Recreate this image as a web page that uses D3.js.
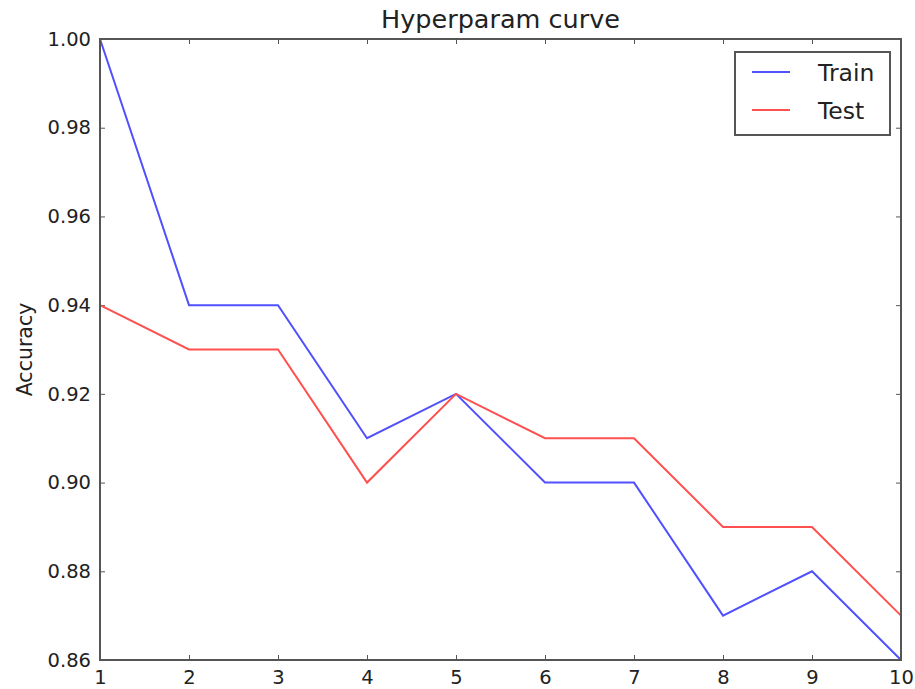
<!DOCTYPE html>
<html>
<head>
<meta charset="utf-8">
<script src="https://cdn.jsdelivr.net/npm/d3@7"></script>
<style>
  body { margin: 0; background: #fff; }
  svg text { font-family: "DejaVu Sans", sans-serif; fill: #222; }
</style>
</head>
<body>
<svg id="chart" width="915" height="689"></svg>
<script>
const steps = [1, 2, 3, 4, 5, 6, 7, 8, 9, 10]
const trainAcc = [1.00, 0.94, 0.94, 0.91, 0.92, 0.90, 0.90, 0.87, 0.88, 0.86]
const testAcc = [0.94, 0.93, 0.93, 0.90, 0.92, 0.91, 0.91, 0.89, 0.89, 0.87]
const yTicks = [0.86, 0.88, 0.90, 0.92, 0.94, 0.96, 0.98, 1.00]
const seriesNames = ["Train", "Test"]
const seriesColors = ["#5050ff", "#ff5050"]

const plotL = 100, plotT = 39, plotR = 901, plotB = 660
const svg = d3.select("#chart")

const x = d3.scaleLinear().domain([1, 10]).range([plotL, plotR])
const y = d3.scaleLinear().domain([0.86, 1.00]).range([plotB, plotT])

// inward ticks on all four sides, matplotlib classic style
svg.append("g")
   .attr("transform", "translate(0," + plotB + ")")
   .call(d3.axisBottom(x).tickValues(steps).tickFormat(d3.format("d")).tickSizeInner(-5).tickSizeOuter(0).tickPadding(10))
svg.append("g")
   .attr("transform", "translate(0," + plotT + ")")
   .call(d3.axisTop(x).tickValues(steps).tickFormat("").tickSizeInner(-5).tickSizeOuter(0))
svg.append("g")
   .attr("transform", "translate(" + plotL + ",0)")
   .call(d3.axisLeft(y).tickValues(yTicks).tickFormat(d3.format(".2f")).tickSizeInner(-5).tickSizeOuter(0).tickPadding(9))
svg.append("g")
   .attr("transform", "translate(" + plotR + ",0)")
   .call(d3.axisRight(y).tickValues(yTicks).tickFormat("").tickSizeInner(-5).tickSizeOuter(0))

svg.selectAll(".domain").remove()
svg.selectAll(".tick line").attr("stroke", "#555").attr("stroke-width", 1)
svg.selectAll(".tick text").style("font-size", "19.5px").attr("fill", "#222")

const series = [trainAcc, testAcc]
const line = d3.line()
   .x(function(d, i) { return x(steps[i]); })
   .y(function(d) { return y(d); })

series.forEach(function(vals, k) {
   svg.append("path")
      .datum(vals)
      .attr("fill", "none")
      .attr("stroke", seriesColors[k])
      .attr("stroke-width", 2)
      .attr("d", line)
})

// frame
svg.append("rect")
   .attr("x", plotL).attr("y", plotT)
   .attr("width", plotR - plotL).attr("height", plotB - plotT)
   .attr("fill", "none").attr("stroke", "#555").attr("stroke-width", 2)

svg.append("text")
   .attr("x", (plotL + plotR) / 2).attr("y", 28)
   .attr("text-anchor", "middle")
   .style("font-size", "25.5px")
   .text("Hyperparam curve")

svg.append("text")
   .attr("transform", "translate(32," + ((plotT + plotB) / 2) + ") rotate(-90)")
   .attr("text-anchor", "middle")
   .style("font-size", "20.5px")
   .text("Accuracy")

// legend
const lg = svg.append("g")
lg.append("rect")
   .attr("x", 735).attr("y", 52).attr("width", 155).attr("height", 83)
   .attr("fill", "#fff").attr("stroke", "#555").attr("stroke-width", 2)
seriesNames.forEach(function(name, k) {
   const ly = 72 + k * 38
   lg.append("line")
      .attr("x1", 752).attr("x2", 790).attr("y1", ly).attr("y2", ly)
      .attr("stroke", seriesColors[k]).attr("stroke-width", 2)
   lg.append("text")
      .attr("x", 818).attr("y", ly + 9)
      .style("font-size", "23.5px")
      .text(name)
})
</script>
</body>
</html>
